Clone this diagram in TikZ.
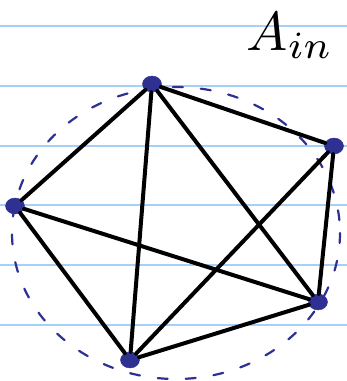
\documentclass[tikz,border=0pt]{standalone}
\usepackage{xcolor}
\usepackage{graphicx}
\usepackage{tikz}
\usetikzlibrary{positioning,calc,shapes.geometric}

\definecolor{ruleblue}{HTML}{A6D0F7}
\definecolor{inkblue}{HTML}{2E3192}

\begin{document}
\begin{tikzpicture}[
  x=1pt, y=-1pt,
  rule/.style={draw=ruleblue, line width=1.6pt},
  vtx/.style={draw=inkblue, fill=inkblue, ellipse, inner sep=0pt, minimum width=19pt, minimum height=16pt},
  edge/.style={draw=black, line width=4pt, line cap=round},
  ring/.style={draw=inkblue, line width=2.2pt, dash pattern=on 10pt off 18pt, line cap=round},
]
  \useasboundingbox (0,0) rectangle (347,381);
  \fill[white] (0,0) rectangle (347,381);

  % ruled paper
  \foreach \ry in {26,86,146,205,265,325}
    \draw[rule] (0,\ry) -- (347,\ry);

  % dashed ring round the graph
  \draw[ring] (176,233) ellipse [x radius=164, y radius=146];

  % vertices
  \node[vtx] (top) at (152,84) {};
  \node[vtx] (right) at (334,146) {};
  \node[vtx] (left) at (15,206) {};
  \node[vtx] (lowright) at (318,302) {};
  \node[vtx] (bottom) at (130,360) {};

  % the nine edges (left and right are not joined)
  \draw[edge] (top) -- (right);
  \draw[edge] (top) -- (left);
  \draw[edge] (top) -- (lowright);
  \draw[edge] (top) -- (bottom);
  \draw[edge] (right) -- (lowright);
  \draw[edge] (right) -- (bottom);
  \draw[edge] (left) -- (lowright);
  \draw[edge] (left) -- (bottom);
  \draw[edge] (lowright) -- (bottom);

  \node (label) at (290,36) {\scalebox{5.5}{$A_{in}$}};
\end{tikzpicture}
\end{document}
